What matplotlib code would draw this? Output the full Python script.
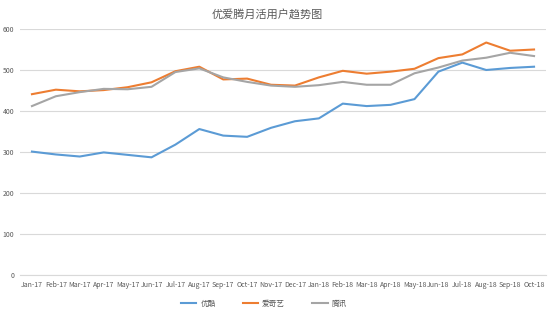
import matplotlib
matplotlib.use("Agg")
import matplotlib.pyplot as plt
import numpy as np

plt.rcParams["font.family"] = ["Noto Sans CJK SC", "DejaVu Sans"]

months = ["Jan-17", "Feb-17", "Mar-17", "Apr-17", "May-17", "Jun-17", "Jul-17",
          "Aug-17", "Sep-17", "Oct-17", "Nov-17", "Dec-17", "Jan-18", "Feb-18",
          "Mar-18", "Apr-18", "May-18", "Jun-18", "Jul-18", "Aug-18", "Sep-18", "Oct-18"]
youku = [301, 294, 289, 299, 293, 287, 318, 356, 340, 337, 359, 375, 382, 418,
         412, 415, 429, 496, 518, 500, 505, 508]
iqiyi = [441, 452, 448, 451, 458, 470, 497, 508, 477, 479, 464, 462, 482, 498,
         491, 496, 503, 529, 538, 567, 547, 550]
tencent = [412, 436, 446, 454, 453, 459, 495, 504, 482, 471, 462, 459, 463, 471,
           464, 464, 492, 506, 523, 530, 542, 534]
series_names = ["优酷", "爱奇艺", "腾讯"]
colors = ["#5B9BD5", "#ED7D31", "#A5A5A5"]

fig = plt.figure(figsize=(5.5, 3.16), dpi=100)
ax = fig.add_axes([20 / 550, 1 - 275 / 316, 526 / 550, 246 / 316])

x = np.arange(len(months))
for vals, name, c in zip([youku, iqiyi, tencent], series_names, colors):
    ax.plot(x, vals, color=c, lw=1.5, label=name)

ax.set_xlim(-0.5, len(months) - 0.5)
ax.set_ylim(0, 600)
ax.set_yticks(range(0, 601, 100))
ax.set_xticks(x)
ax.set_xticklabels(months)
ax.tick_params(axis="both", length=0, labelsize=5, colors="#595959", pad=4)
ax.grid(axis="y", color="#D9D9D9", lw=0.8)
ax.set_axisbelow(True)
for s in ["top", "right", "left"]:
    ax.spines[s].set_visible(False)
ax.spines["bottom"].set_color("#D9D9D9")

fig.text(0.485, 0.955, "优爱腾月活用户趋势图", ha="center", va="center",
         fontsize=8, color="#595959")

fig.legend(loc="center", bbox_to_anchor=(0.48, 0.038), ncol=3, frameon=False,
           fontsize=5.5, handlelength=2.0, handletextpad=0.5, columnspacing=3.6,
           labelcolor="#595959")

fig.savefig("out.png", dpi=100)
